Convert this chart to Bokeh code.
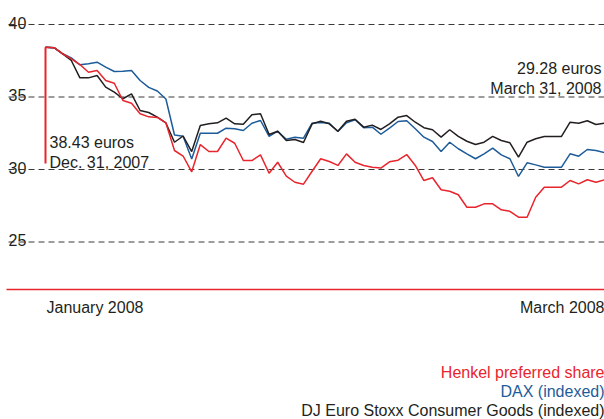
from bokeh.plotting import figure
from bokeh.models import Label, Range1d, ColumnDataSource
from bokeh.embed import file_html
from bokeh.resources import INLINE

# ---- data (trading days, Dec 31 2007 .. Mar 31 2008) ----
days = list(range(66))
henkel = [38.43, 38.40, 37.98, 37.63, 37.24, 36.71, 36.83, 36.14, 35.95, 34.76,
          34.57, 33.84, 33.63, 33.59, 33.21, 31.31, 30.93, 29.84, 31.72, 31.24,
          31.24, 32.16, 31.81, 30.62, 30.62, 31.01, 29.74, 30.50, 29.54, 29.12,
          28.99, 29.88, 30.74, 30.55, 30.28, 31.08, 30.50, 30.28, 30.16, 30.10,
          30.53, 30.64, 31.03, 30.28, 29.24, 29.43, 28.60, 28.50, 28.26, 27.40,
          27.40, 27.63, 27.63, 27.22, 27.12, 26.71, 26.71, 28.09, 28.78, 28.78,
          28.78, 29.24, 29.01, 29.29, 29.12, 29.28]
dax = [38.43, 38.40, 37.98, 37.70, 37.22, 37.29, 37.40, 37.06, 36.76, 36.78,
       36.83, 36.14, 35.66, 35.41, 34.86, 32.38, 32.30, 30.72, 32.50, 32.50,
       32.50, 32.85, 32.81, 32.69, 33.19, 33.38, 32.28, 32.64, 32.09, 32.23,
       32.16, 33.19, 33.24, 33.19, 32.62, 33.22, 33.43, 32.88, 32.92, 32.43,
       32.86, 33.31, 33.36, 32.81, 32.23, 31.93, 31.24, 31.88, 31.43, 31.08,
       30.74, 31.08, 31.47, 31.01, 30.74, 29.52, 30.46, 30.32, 30.16, 30.16,
       30.16, 31.08, 30.92, 31.38, 31.31, 31.17]
stoxx = [38.43, 38.40, 37.97, 37.52, 36.32, 36.32, 36.48, 35.68, 35.33, 34.88,
         35.22, 34.07, 33.93, 33.61, 33.21, 31.88, 32.31, 31.24, 33.03, 33.15,
         33.22, 33.54, 33.15, 33.12, 33.77, 33.84, 32.41, 32.64, 32.00, 32.07,
         31.86, 33.15, 33.33, 33.15, 32.64, 33.33, 33.47, 32.92, 33.06, 32.76,
         33.15, 33.61, 33.72, 33.26, 32.88, 32.74, 32.23, 32.74, 32.28, 31.95,
         31.72, 31.88, 32.28, 32.00, 31.84, 30.85, 31.88, 32.12, 32.28, 32.28,
         32.28, 33.26, 33.19, 33.36, 33.10, 33.19]
y_ticks = [25, 30, 35, 40]
x_labels = ["January 2008", "March 2008"]
series_names = ["Henkel preferred share", "DAX (indexed)",
                "DJ Euro Stoxx Consumer Goods (indexed)"]
start_note = ["38.43 euros", "Dec. 31, 2007"]
end_note = ["29.28 euros", "March 31, 2008"]

RED = "#e8252d"
BLUE = "#1d5c9a"
BLACK = "#231f20"
FONT = "Liberation Sans"
FS = "16px"

# pixel helpers (canvas coords -> data coords)
PX0, PXS = 45.0, 8.6       # x of first day, px per day
PY30, PYS = 169.0, 14.5    # y of value 30, px per unit
W, H = 604, 419


def dx(px):
    return (px - PX0) / PXS


def dy(py):
    return 30 + (PY30 - py) / PYS


p = figure(width=W, height=H, output_backend="svg", toolbar_location=None,
           x_range=Range1d(dx(0), dx(W)), y_range=Range1d(dy(H), dy(0)),
           x_axis_location=None, y_axis_location=None, min_border=0,
           background_fill_color="white", border_fill_color="white")
p.outline_line_color = None
p.grid.visible = False

# dashed gridlines with labels above their left end
p.segment(x0=[dx(8)] * len(y_ticks), y0=y_ticks, x1=[dx(W)] * len(y_ticks),
          y1=y_ticks, line_color="#3a3a3a", line_width=1, line_dash="6 4")
for t in y_ticks:
    p.add_layout(Label(x=dx(8), y=t + 2 / PYS, text=str(t), text_font=FONT,
                       text_font_size=FS, text_color=BLACK,
                       text_baseline="alphabetic", text_align="left"))

# red baseline
p.segment(x0=[dx(6)], y0=[dy(289)], x1=[dx(W)], y1=[dy(289)],
          line_color=RED, line_width=1.5)

src = ColumnDataSource(dict(x=days, henkel=henkel, dax=dax, stoxx=stoxx))
p.line("x", "dax", source=src, line_color=BLUE, line_width=1.5)
p.line("x", "stoxx", source=src, line_color=BLACK, line_width=1.5)
p.line("x", "henkel", source=src, line_color=RED, line_width=1.5)

# start marker line
p.segment(x0=[days[0]], y0=[henkel[0]], x1=[days[0]], y1=[dy(163)],
          line_color=RED, line_width=2)


def lab(x, y, text, color=BLACK, align="left"):
    p.add_layout(Label(x=x, y=y, text=text, text_font=FONT, text_font_size=FS,
                       text_color=color, text_align=align,
                       text_baseline="alphabetic"))


lab(dx(49), dy(141.5), start_note[0])
lab(dx(49), dy(161.5), start_note[1])
lab(dx(601), dy(68), end_note[0], align="right")
lab(dx(601), dy(88), end_note[1], align="right")

lab(dx(46), dy(307), x_labels[0])
lab(dx(604), dy(307), x_labels[1], align="right")

lab(dx(604), dy(372), series_names[0], RED, "right")
lab(dx(604), dy(391), series_names[1], BLUE, "right")
lab(dx(604), dy(410), series_names[2], BLACK, "right")

open("out.html", "w").write(file_html(p, INLINE))
